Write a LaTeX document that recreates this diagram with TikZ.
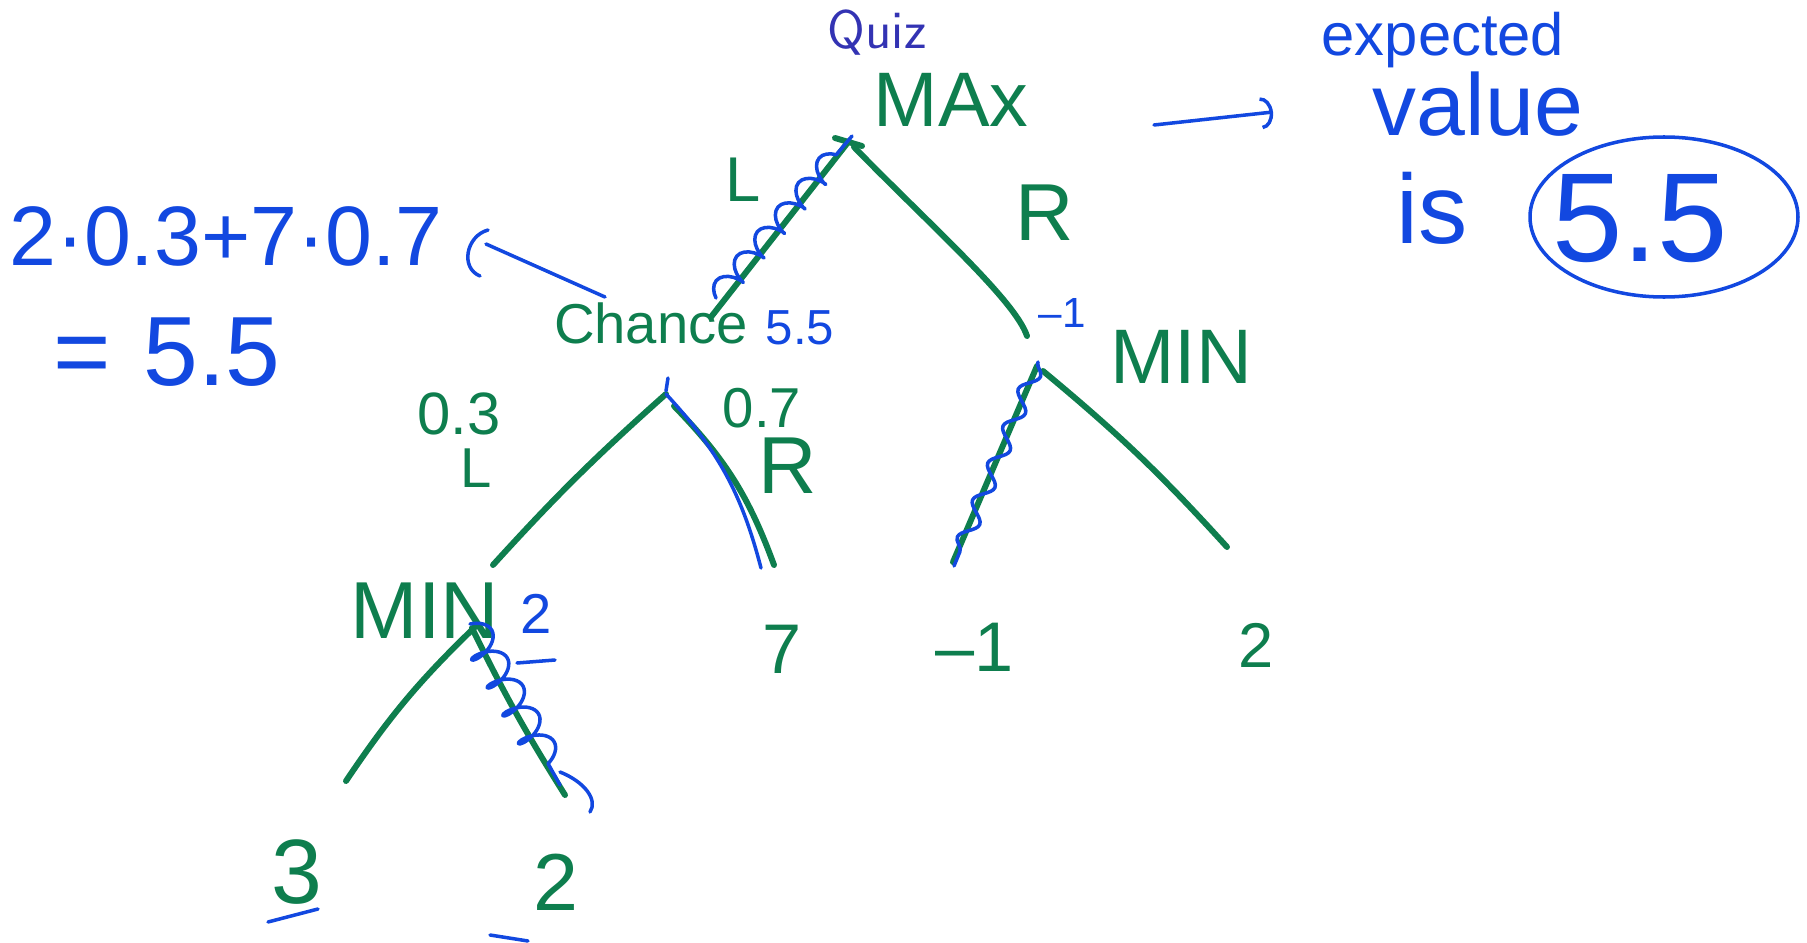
\documentclass[tikz,border=0pt]{standalone}
\usepackage{fontspec}
\usepackage{tikz}
\usetikzlibrary{arrows.meta,decorations.pathmorphing,shapes.geometric}
\newfontfamily\handfont{Liberation Sans}
\definecolor{penGreen}{HTML}{0E7E4E}
\definecolor{penBlue}{HTML}{1248E0}
\definecolor{titleBlue}{RGB}{51,51,179}

\begin{document}
\begin{tikzpicture}[x=0.1mm,y=-0.1mm,
  title/.style={text=titleBlue,inner sep=0pt,font=\sffamily\fontsize{15.5pt}{17pt}\selectfont},
  tree/.style={text=penGreen,inner sep=0pt,font=\handfont\fontsize{#1}{#1}\selectfont},
  tree/.default=20pt,
  note/.style={text=penBlue,inner sep=0pt,font=\handfont\fontsize{#1}{#1}\selectfont},
  note/.default=20pt,
  branch/.style={draw=penGreen,line width=1.7pt,line cap=round},
  ink/.style={draw=penBlue,line width=1pt,line cap=round,line join=round},
  coilink/.style={ink,decorate,decoration={coil,amplitude=#1,segment length=3.2mm}},
  wavink/.style={ink,decorate,decoration={snake,amplitude=0.8mm,segment length=4mm}},
  arr/.style={ink,-{Arc Barb[length=1.2mm,width=3.2mm]}}
]
  \useasboundingbox (0,0) rectangle (1807,943);

  \node[title] (quiz) at (877,33) {Quiz};

  \node[tree=22pt] (max) at (951,100) {MAx};
  \node[tree=16pt] (chance) at (651,323) {Chance};
  \node[tree=22pt] (minr) at (1181,357) {MIN};
  \node[tree=23pt] (minl) at (425,611) {MIN};
  \node[tree=20pt] (leafseven) at (782,649) {7};
  \node[tree=20pt] (leafneg) at (975,647) {–1};
  \node[tree=18pt] (leaftwo) at (1256,645) {2};
  \node[tree=26pt] (leafthree) at (297,872) {3};
  \node[tree=23pt] (leaflow) at (556,882) {2};

  \node[tree=18pt] (lblL) at (743,180) {L};
  \node[tree=23pt] (lblR) at (1045,213) {R};
  \node[tree=17pt] (probL) at (459,414) {0.3};
  \node[tree=16pt] (lblcL) at (476,468) {L};
  \node[tree=16pt] (probR) at (762,408) {0.7};
  \node[tree=23pt] (lblcR) at (788,466) {R};

  \coordinate (rootap) at (849,141);
  \coordinate (rootapR) at (854,147);
  \coordinate (chancetop) at (711,317);
  \coordinate (minrtop) at (1027,336);
  \coordinate (chanceap) at (666,394);
  \coordinate (chanceapR) at (674,406);
  \coordinate (minlend) at (493,565);
  \coordinate (sevenend) at (774,565);
  \coordinate (minrap) at (1037,366);
  \coordinate (minrapR) at (1043,371);
  \coordinate (negend) at (953,562);
  \coordinate (twoend) at (1227,547);
  \coordinate (minlap) at (476,626);
  \coordinate (minlapR) at (472,628);
  \coordinate (threeend) at (346,781);
  \coordinate (lowend) at (565,795);

  \draw[branch] (rootap) -- (chancetop);
  \draw[branch] (835,138) -- (862,146);
  \draw[branch] (rootapR) .. controls (930,225) and (1015,300) .. (minrtop);
  \draw[branch] (chanceap) to[bend right=3] (minlend);
  \draw[branch] (chanceapR) to[bend left=12] (sevenend);
  \draw[branch] (minrap) -- (negend);
  \draw[branch] (minrapR) to[bend left=4] (twoend);
  \draw[branch] (minlap) to[bend right=6] (threeend);
  \draw[branch] (minlapR) to[bend right=3] (lowend);

  \draw[coilink=1.1mm] (716,298) -- (852,136);
  \draw[ink] (668,378) -- (666,391);
  \draw[ink] (chanceap) to[bend left=14] (761,568);
  \draw[wavink] (1038,362) -- (954,566);
  \draw[coilink=1.6mm] (470,624) -- (560,785);
  \draw[ink] (560,772) .. controls (585,782) and (598,800) .. (590,812);

  \node[note=14pt] (chval) at (800,328) {5.5};
  \node[note=12pt] (minrval) at (1062,313) {–1};
  \node[note=16pt] (minlval) at (536,614) {2};
  \draw[ink] (517,663) -- (555,660);
  \draw[ink] (268,922) -- (318,909);
  \draw[ink] (490,935) -- (528,941);

  \node[note=24pt] (eq) at (226,236) {2·0.3+7·0.7};
  \node[note=28pt] (eqres) at (167,352) {=\,\,5.5};
  \coordinate (chancelink) at (605,297);
  \coordinate (eqlink) at (486,244);
  \draw[ink] (chancelink) -- (eqlink);
  \draw[ink] (488,230) .. controls (466,236) and (460,268) .. (480,276);

  \coordinate (arrtail) at (1154,125);
  \coordinate (arrhead) at (1273,112);
  \draw[arr] (arrtail) -- (arrhead);
  \node[note=17pt] (expd) at (1443,40) {expected};
  \node[note=25pt] (val) at (1478,104) {value};
  \node[note=28pt] (is) at (1432,208) {is};
  \node[note=36pt] (ev) at (1640,219) {5.5};
  \draw[ink] (1664,217) ellipse [x radius=13.4mm,y radius=8mm];
\end{tikzpicture}
\end{document}
